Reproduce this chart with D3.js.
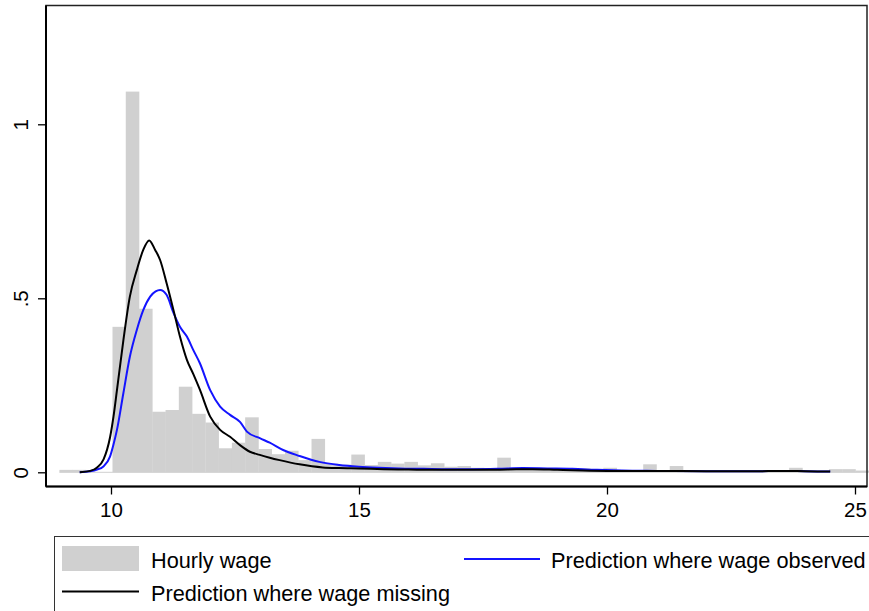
<!DOCTYPE html>
<html>
<head>
<meta charset="utf-8">
<script src="https://cdn.jsdelivr.net/npm/d3@7"></script>
<style>
  html, body { margin: 0; padding: 0; background: #fff; }
  svg { display: block; font-family: "Liberation Sans", Arial, Helvetica, sans-serif; }
</style>
</head>
<body>
<svg id="chart" width="869" height="611"></svg>
<script>
// ---------- DATA ----------
const binStart = 8.96;
const binWidth = 0.2675;
const histDensity = [
  0.007, 0.007, 0, 0, 0.418, 1.094, 0.470, 0.174, 0.179, 0.246,
  0.168, 0.143, 0.069, 0.085, 0.158, 0.067, 0.052, 0.062, 0.035, 0.096,
  0.025, 0.022, 0.051, 0.021, 0.030, 0.025, 0.030, 0.020, 0.026, 0.016,
  0.018, 0.013, 0.012, 0.042, 0.012, 0.011, 0.010, 0.008, 0.008, 0.012,
  0.006, 0.013, 0.005, 0.004, 0.023, 0.004, 0.018, 0.003, 0.003, 0.002,
  0.002, 0.002, 0.002, 0.002, 0.003, 0.013, 0.002, 0.002, 0.009, 0.009,
  0.005
];

const predMissing = [
  [9.37,0.000],[9.58,0.004],[9.72,0.014],[9.85,0.037],[9.98,0.100],[10.05,0.160],
  [10.12,0.236],[10.25,0.380],[10.38,0.505],[10.52,0.581],[10.65,0.639],[10.77,0.666],
  [10.89,0.639],[10.99,0.610],[11.12,0.544],[11.26,0.466],[11.39,0.390],[11.53,0.323],
  [11.66,0.282],[11.79,0.238],[12.00,0.160],[12.20,0.122],[12.40,0.102],[12.60,0.078],
  [12.80,0.059],[13.00,0.050],[13.20,0.042],[13.40,0.035],[13.80,0.023],[14.27,0.014],
  [14.60,0.012],[15.00,0.011],[15.50,0.009],[16.00,0.008],[16.50,0.007],[17.00,0.007],
  [17.50,0.007],[18.00,0.008],[18.50,0.009],[19.00,0.007],[19.50,0.005],[20.00,0.004],
  [21.00,0.004],[22.00,0.003],[23.00,0.003],[23.50,0.004],[24.00,0.003],[24.50,0.002]
];

const predObserved = [
  [9.37,0.000],[9.58,0.003],[9.72,0.008],[9.84,0.016],[9.98,0.045],[10.05,0.080],
  [10.12,0.122],[10.25,0.228],[10.38,0.332],[10.52,0.409],[10.65,0.466],[10.79,0.505],
  [10.90,0.520],[10.99,0.524],[11.12,0.510],[11.26,0.458],[11.39,0.418],[11.53,0.390],
  [11.66,0.351],[11.79,0.314],[12.00,0.236],[12.20,0.189],[12.40,0.165],[12.60,0.145],
  [12.74,0.117],[13.00,0.098],[13.20,0.085],[13.47,0.064],[13.80,0.047],[14.20,0.030],
  [14.60,0.021],[15.00,0.016],[15.40,0.013],[15.80,0.011],[16.30,0.010],[16.80,0.009],
  [17.30,0.009],[17.80,0.010],[18.30,0.012],[18.80,0.011],[19.30,0.010],[19.80,0.007],
  [20.30,0.005],[21.00,0.004],[22.00,0.003],[23.00,0.003],[23.50,0.004],[24.00,0.003],
  [24.50,0.002]
];

const xTicks = [10, 15, 20, 25];
const xTickLabels = ["10", "15", "20", "25"];
const yTicks = [0, 0.5, 1];
const yTickLabels = ["0", ".5", "1"];
const legendLabels = ["Hourly wage", "Prediction where wage observed", "Prediction where wage missing"];

// ---------- LAYOUT ----------
const svg = d3.select("#chart");
const plot = { left: 46, right: 867, top: 5.5, bottom: 486.5 };

const x = d3.scaleLinear().domain([10, 25]).range([111, 855]);
const y = d3.scaleLinear().domain([0, 1]).range([472.3, 124.3]);

const histColor = "#d0d0d0";
const blue = "#1414ff";

// bars
const bins = histDensity.map((d, i) => ({ x0: binStart + i * binWidth, x1: binStart + (i + 1) * binWidth, v: d }));
svg.append("g").selectAll("rect").data(bins).enter().append("rect")
  .attr("x", d => x(d.x0))
  .attr("width", d => x(d.x1) - x(d.x0) + 0.3)
  .attr("y", d => y(d.v))
  .attr("height", d => Math.max(0, y(0) - y(d.v)))
  .attr("fill", histColor);

// faint zero line of histogram
svg.append("line")
  .attr("x1", x(binStart)).attr("x2", x(binStart + histDensity.length * binWidth))
  .attr("y1", y(0)).attr("y2", y(0))
  .attr("stroke", histColor).attr("stroke-width", 1);

// curves
const line = d3.line().x(d => x(d[0])).y(d => y(d[1])).curve(d3.curveMonotoneX);
svg.append("path").datum(predObserved).attr("d", line)
  .attr("fill", "none").attr("stroke", blue).attr("stroke-width", 2).attr("stroke-linejoin", "round");
svg.append("path").datum(predMissing).attr("d", line)
  .attr("fill", "none").attr("stroke", "#000").attr("stroke-width", 2).attr("stroke-linejoin", "round");

// frame
svg.append("rect")
  .attr("x", plot.left).attr("y", plot.top)
  .attr("width", plot.right - plot.left).attr("height", plot.bottom - plot.top)
  .attr("fill", "none").attr("stroke", "#222").attr("stroke-width", 1.5);

// x axis
const xAxis = d3.axisBottom(x).tickValues(xTicks).tickFormat((d, i) => xTickLabels[i]).tickSize(8).tickSizeOuter(0);
const gx = svg.append("g").attr("transform", `translate(0,${plot.bottom})`).call(xAxis);
gx.select(".domain").attr("d", `M${plot.left},0H${plot.right}`).attr("stroke", "#000").attr("stroke-width", 2);
gx.selectAll(".tick line").attr("stroke", "#000").attr("stroke-width", 1.3);
gx.selectAll(".tick text").attr("font-size", 20.5).attr("fill", "#000").attr("dy", null).attr("y", 30.5)
  .attr("font-family", "Liberation Sans, Arial, sans-serif");

// y axis
const yAxis = d3.axisLeft(y).tickValues(yTicks).tickFormat((d, i) => yTickLabels[i]).tickSize(8).tickSizeOuter(0);
const gy = svg.append("g").attr("transform", `translate(${plot.left},0)`).call(yAxis);
gy.select(".domain").attr("d", `M0,${plot.top}V${plot.bottom}`).attr("stroke", "#000").attr("stroke-width", 2);
gy.selectAll(".tick line").attr("stroke", "#000").attr("stroke-width", 1.3);
gy.selectAll(".tick text")
  .attr("font-size", 20.5).attr("fill", "#000")
  .attr("x", null).attr("dy", null)
  .attr("text-anchor", "middle")
  .attr("transform", "translate(-18.5,0) rotate(-90)")
  .attr("font-family", "Liberation Sans, Arial, sans-serif");

// legend
const lg = svg.append("g");
lg.append("rect").attr("x", 54.5).attr("y", 536.5).attr("width", 830).attr("height", 90)
  .attr("fill", "#fff").attr("stroke", "#333").attr("stroke-width", 1);
lg.append("rect").attr("x", 62).attr("y", 546).attr("width", 77).attr("height", 25).attr("fill", histColor);
lg.append("text").attr("x", 151).attr("y", 567.5).attr("font-size", 21.7).text(legendLabels[0]);
lg.append("line").attr("x1", 464).attr("x2", 540).attr("y1", 559).attr("y2", 559).attr("stroke", blue).attr("stroke-width", 2);
lg.append("text").attr("x", 551).attr("y", 567.5).attr("font-size", 21.7).text(legendLabels[1]);
lg.append("line").attr("x1", 62).attr("x2", 139).attr("y1", 591.5).attr("y2", 591.5).attr("stroke", "#000").attr("stroke-width", 2);
lg.append("text").attr("x", 151).attr("y", 600.5).attr("font-size", 21.7).text(legendLabels[2]);
</script>
</body>
</html>
